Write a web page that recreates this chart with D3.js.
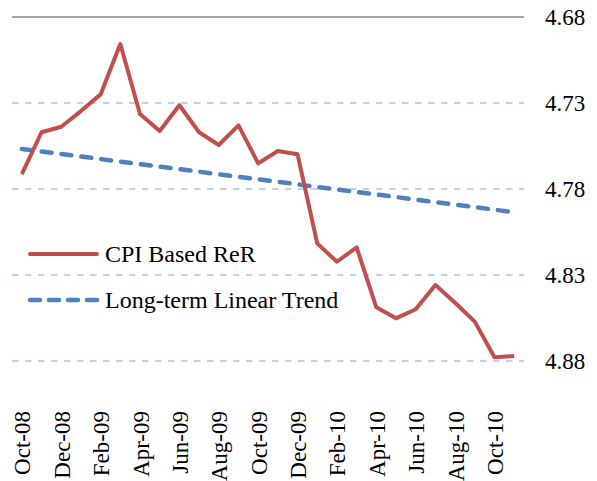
<!DOCTYPE html>
<html>
<head>
<meta charset="utf-8">
<script src="https://cdn.jsdelivr.net/npm/d3@7"></script>
<style>
	body { margin: 0; background: #fff; }
</style>
</head>
<body>
<script>
(function(){

	//chart data
	var months = ["Oct-08","Nov-08","Dec-08","Jan-09","Feb-09","Mar-09","Apr-09","May-09","Jun-09",
		"Jul-09","Aug-09","Sep-09","Oct-09","Nov-09","Dec-09","Jan-10","Feb-10","Mar-10","Apr-10",
		"May-10","Jun-10","Jul-10","Aug-10","Sep-10","Oct-10","Nov-10"];
	var cpiReR = [4.7713,4.7470,4.7438,4.7347,4.7250,4.6957,4.7364,4.7463,4.7313,
		4.7470,4.7544,4.7430,4.7651,4.7579,4.7598,4.8116,4.8223,4.8139,4.8488,
		4.8552,4.8499,4.8358,4.8461,4.8571,4.8778,4.8771];
	//long-term linear trend, start and end points
	var trendMonths = ["Oct-08","Nov-10"];
	var trendValues = [4.7567,4.7935];
	var yTicks = [4.68,4.73,4.78,4.83,4.88];
	var xTickLabels = ["Oct-08","Dec-08","Feb-09","Apr-09","Jun-09","Aug-09","Oct-09",
		"Dec-09","Feb-10","Apr-10","Jun-10","Aug-10","Oct-10"];
	var legendItems = ["CPI Based ReR","Long-term Linear Trend"];

	var serif = "'Liberation Serif', Tinos, 'Times New Roman', serif";
	var width = 597, height = 481;
	var left = 12, right = 524, top = 17, bottom = 361;

	var svg = d3.select("body")
		.append("svg")
		.attr("width", width)
		.attr("height", height);

	//category scale, reversed value axis
	var x = d3.scalePoint()
		.domain(months)
		.range([left, right])
		.padding(0.5);
	var y = d3.scaleLinear()
		.domain([4.68, 4.88])
		.range([top, bottom]);

	//gridlines
	svg.selectAll(".grid")
		.data(yTicks)
		.enter()
		.append("line")
		.attr("x1", left)
		.attr("x2", right)
		.attr("y1", function(d){ return y(d); })
		.attr("y2", function(d){ return y(d); })
		.attr("stroke", function(d, i){ return i == 0 ? "#878787" : "#a9c3e5"; })
		.attr("stroke-width", 1.5)
		.attr("stroke-dasharray", function(d, i){ return i == 0 ? null : "6.5,6.5"; });

	//y labels on the right
	var yAxis = d3.axisRight(y)
		.tickValues(yTicks)
		.tickFormat(d3.format(".2f"))
		.tickSize(0)
		.tickPadding(0);
	svg.append("g")
		.attr("transform", "translate(545,0)")
		.call(yAxis)
		.attr("font-family", serif)
		.attr("font-size", 23)
		.call(function(g){ g.select(".domain").remove(); })
		.selectAll("text")
		.attr("fill", "#000");

	//x labels, rotated
	var xAxis = d3.axisBottom(x)
		.tickValues(xTickLabels)
		.tickSize(0)
		.tickPadding(0);
	svg.append("g")
		.attr("transform", "translate(0,411)")
		.call(xAxis)
		.attr("font-family", serif)
		.attr("font-size", 23)
		.call(function(g){ g.select(".domain").remove(); })
		.selectAll("text")
		.attr("fill", "#000")
		.attr("text-anchor", "end")
		.attr("transform", "rotate(-90)")
		.attr("x", 0)
		.attr("y", 0)
		.attr("dy", "0.35em");

	//trend line
	var line = d3.line()
		.x(function(d){ return x(d[0]); })
		.y(function(d){ return y(d[1]); });

	svg.append("path")
		.datum(d3.zip(trendMonths, trendValues))
		.attr("d", line)
		.attr("fill", "none")
		.attr("stroke", "#4f81bd")
		.attr("stroke-width", 4.5)
		.attr("stroke-linecap", "round")
		.attr("stroke-dasharray", "10,10");

	//CPI based real exchange rate
	svg.append("path")
		.datum(d3.zip(months, cpiReR))
		.attr("d", line)
		.attr("fill", "none")
		.attr("stroke", "#c0504d")
		.attr("stroke-width", 4)
		.attr("stroke-linejoin", "round");

	//legend
	var legend = svg.selectAll(".legend")
		.data(legendItems)
		.enter()
		.append("g")
		.attr("transform", function(d, i){ return "translate(0," + (254 + i * 46) + ")"; });

	legend.append("line")
		.attr("x1", 30)
		.attr("x2", 97)
		.attr("stroke", function(d, i){ return i == 0 ? "#c0504d" : "#4f81bd"; })
		.attr("stroke-width", function(d, i){ return i == 0 ? 4 : 4.5; })
		.attr("stroke-linecap", "round")
		.attr("stroke-dasharray", function(d, i){ return i == 0 ? null : "10,9"; });

	legend.append("text")
		.attr("x", 105)
		.attr("y", 8)
		.style("font-family", serif)
		.style("font-size", "24px")
		.attr("fill", "#000")
		.text(function(d){ return d; });

})();
</script>
</body>
</html>
